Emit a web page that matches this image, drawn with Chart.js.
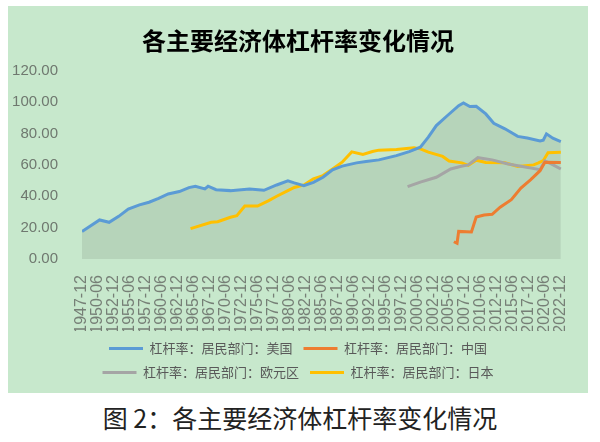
<!DOCTYPE html>
<html lang="zh">
  <head>
    <meta charset="UTF-8" />
    <title>各主要经济体杠杆率变化情况</title>
    <style>
      body {
        margin: 0;
        background: #fff;
        width: 600px;
        height: 442px;
        position: relative;
        font-family: "Noto Sans CJK SC", sans-serif;
      }
      #panel {
        position: absolute;
        left: 8px;
        top: 6px;
        width: 580px;
        height: 387px;
        background: #c7e8cc;
      }
      #caption {
        position: absolute;
        left: 0;
        top: 401px;
        width: 600px;
        text-align: center;
        font-size: 25px;
        color: #222;
        line-height: 32px;
      }
    </style>
  </head>
  <body>
    <div id="panel"><canvas id="chart"></canvas></div>
    <div id="caption">图 2：各主要经济体杠杆率变化情况</div>
    <script src="https://cdn.jsdelivr.net/npm/chart.js"></script>
    <script>
      // 居民部门杠杆率（季度，从图上读取的近似值）
      const usDates = ["1947-12", "1949-03", "1950-09", "1952-03", "1953-09", "1955-03", "1956-12", "1958-06", "1959-12", "1961-06", "1963-03", "1964-09", "1965-09", "1967-03", "1967-09", "1968-12", "1971-03", "1974-03", "1976-06", "1978-06", "1980-03", "1981-03", "1982-09", "1984-03", "1985-09", "1987-03", "1988-09", "1990-12", "1992-06", "1994-06", "1997-03", "1999-03", "2000-12", "2002-03", "2003-06", "2005-03", "2006-12", "2007-09", "2008-09", "2009-09", "2011-03", "2012-06", "2014-03", "2016-03", "2017-09", "2019-09", "2020-03", "2020-09", "2021-09", "2022-12"];
      const usValues = [17.5, 20.9, 24.9, 23.4, 27.2, 31.9, 34.5, 36.2, 38.7, 41.5, 43.0, 45.5, 46.4, 44.7, 46.4, 44.2, 43.6, 44.7, 43.8, 47.2, 49.8, 48.5, 46.8, 48.9, 52.1, 56.8, 59.2, 61.3, 62.1, 63.2, 65.9, 68.5, 71.3, 77.7, 85.1, 91.5, 97.8, 99.5, 97.2, 97.4, 92.5, 86.5, 83.0, 78.2, 77.2, 75.3, 75.8, 79.8, 77.0, 74.9];

      const cnDates = ["2006-03", "2006-09", "2006-12", "2008-12", "2009-09", "2010-12", "2012-03", "2013-06", "2015-03", "2016-09", "2018-03", "2019-09", "2020-06", "2022-12"];
      const cnValues = [11.0, 10.0, 17.6, 17.2, 26.8, 28.0, 28.5, 33.0, 37.8, 45.2, 50.5, 56.3, 61.7, 61.5];

      const euDates = ["1998-12", "2000-12", "2003-06", "2005-09", "2007-03", "2008-06", "2009-12", "2012-03", "2014-09", "2016-09", "2019-09", "2020-06", "2021-06", "2022-12"];
      const euValues = [46.1, 49.0, 52.1, 57.4, 59.0, 60.0, 64.6, 63.2, 60.6, 59.2, 57.0, 62.5, 60.6, 57.4];

      const jpDates = ["1964-12", "1968-03", "1969-03", "1971-03", "1972-03", "1973-06", "1975-06", "1977-03", "1978-06", "1980-03", "1981-03", "1982-09", "1984-03", "1985-09", "1987-03", "1988-09", "1990-03", "1991-12", "1993-06", "1994-06", "1997-03", "1999-12", "2000-12", "2002-03", "2004-06", "2005-06", "2007-06", "2008-06", "2009-09", "2011-03", "2014-03", "2016-03", "2018-09", "2019-06", "2020-03", "2020-12", "2022-12"];
      const jpValues = [19.4, 23.4, 23.8, 26.6, 27.6, 33.8, 33.8, 37.2, 40.0, 43.6, 45.6, 47.2, 51.1, 53.2, 57.4, 61.7, 68.3, 66.7, 68.5, 69.4, 69.8, 71.0, 70.2, 68.1, 65.4, 62.5, 61.3, 59.7, 63.0, 61.5, 61.3, 59.0, 60.0, 61.3, 62.7, 67.8, 68.0];

      const seriesNames = ["杠杆率：居民部门：美国", "杠杆率：居民部门：中国", "杠杆率：居民部门：欧元区", "杠杆率：居民部门：日本"];
      const seriesColors = ["#5b9bd5", "#ed7d31", "#a5a5a5", "#ffc000"];

      // x 轴：自 1947-12 起的季度序号，每 10 个季度一个刻度
      const startYear = 1947;
      const tickStep = 10;
      const lastQuarter = 300;

      function quarterIndex(d) {
        const [y, m] = d.split("-").map(Number);
        return (y - startYear) * 4 + (m - 12) / 3;
      }
      function quarterLabel(i) {
        const total = startYear * 12 + 11 + i * 3;
        const y = Math.floor(total / 12);
        const m = (total % 12) + 1;
        return y + "-" + String(m).padStart(2, "0");
      }
      function points(dates, values) {
        return dates.map((d, i) => ({ x: quarterIndex(d), y: values[i] }));
      }

      const font = "'Noto Sans CJK SC', sans-serif";
      const allSeries = [
        [usDates, usValues],
        [cnDates, cnValues],
        [euDates, euValues],
        [jpDates, jpValues],
      ];

      new Chart(document.getElementById("chart"), {
        type: "line",
        data: {
          datasets: allSeries.map(([d, v], k) => ({
            label: seriesNames[k],
            data: points(d, v),
            borderColor: seriesColors[k],
            backgroundColor: k === 0 ? "rgba(125,140,125,0.22)" : seriesColors[k],
            fill: k === 0 ? "origin" : false,
            borderWidth: 3,
            pointRadius: 0,
            tension: 0,
          })),
        },
        options: {
          responsive: true,
          maintainAspectRatio: false,
          animation: false,
          layout: { padding: { left: 0, right: 0, top: 0, bottom: 4 } },
          scales: {
            x: {
              type: "linear",
              min: 0,
              max: 312,
              grid: { display: false },
              border: { display: false },
              afterBuildTicks: (s) => {
                const t = [];
                for (let i = 0; i <= lastQuarter; i += tickStep) t.push({ value: i });
                s.ticks = t;
              },
              afterFit: (s) => {
                s.height = 72;
              },
              ticks: {
                autoSkip: false,
                minRotation: 90,
                maxRotation: 90,
                padding: 8,
                color: "#767f76",
                font: { size: 16, family: "'Liberation Sans', sans-serif" },
                callback: (v) => quarterLabel(v),
              },
            },
            y: {
              min: 0,
              max: 120,
              grid: { display: false },
              border: { display: false },
              afterFit: (s) => {
                s.width = 74;
              },
              ticks: {
                stepSize: 20,
                padding: 16,
                color: "#6f786f",
                font: { size: 15, family: "'Liberation Sans', sans-serif" },
                callback: (v) => v.toFixed(2),
              },
            },
          },
          plugins: {
            filler: { drawTime: "beforeDatasetsDraw" },
            title: {
              display: true,
              text: "各主要经济体杠杆率变化情况",
              color: "#000",
              font: { size: 24, weight: "bold", family: font },
              padding: { top: 20, bottom: 16 },
            },
            legend: {
              position: "bottom",
              labels: {
                usePointStyle: true,
                pointStyle: "line",
                pointStyleWidth: 34,
                padding: 11,
                color: "#595959",
                font: { size: 13, family: font },
              },
            },
            tooltip: { enabled: false },
          },
        },
      });
    </script>
  </body>
</html>
